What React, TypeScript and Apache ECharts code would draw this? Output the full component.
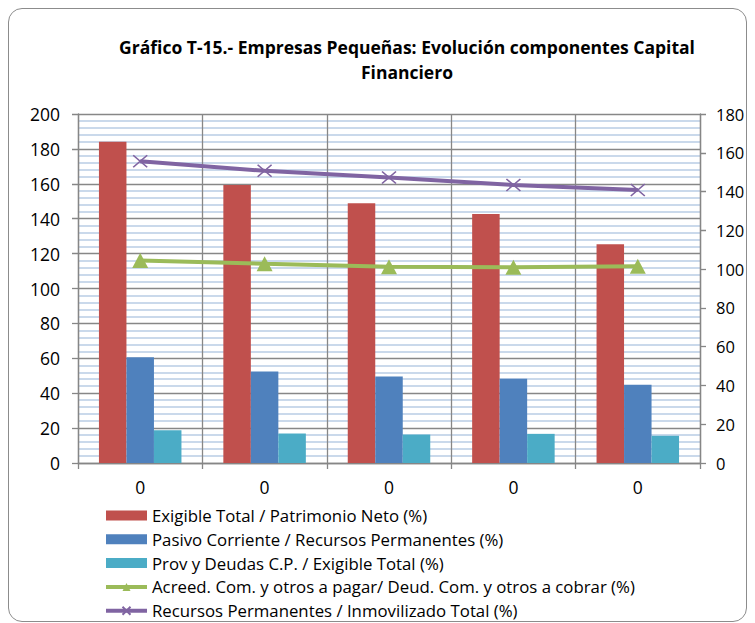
import React, { useEffect, useRef } from "react";
import * as echarts from "echarts";

const categories = ["0", "0", "0", "0", "0"];
const exigiblePatrimonio = [184.1, 159.3, 148.8, 142.7, 125.3];
const pasivoRecursos = [60.6, 52.5, 49.6, 48.3, 44.8];
const provExigible = [18.8, 16.9, 16.3, 16.7, 15.6];
const acreedDeud = [104.5, 102.8, 101.2, 100.9, 101.5];
const recursosInmov = [155.6, 150.7, 147.3, 143.4, 140.8];

const seriesNames = [
  "Exigible Total / Patrimonio Neto (%)",
  "Pasivo Corriente / Recursos Permanentes (%)",
  "Prov y Deudas C.P. / Exigible Total (%)",
  "Acreed. Com. y otros a pagar/ Deud. Com. y otros a cobrar (%)",
  "Recursos Permanentes / Inmovilizado Total (%)",
];

const titleLine1 = "Gráfico T-15.- Empresas Pequeñas: Evolución componentes Capital";
const titleLine2 = "Financiero";

const FONT = "'Open Sans', 'Liberation Sans', sans-serif";

export default function App() {
  const ref = useRef<HTMLDivElement>(null);
  useEffect(() => {
    document.body.style.overflow = "hidden";
    const chart = echarts.init(ref.current!, undefined, { renderer: "svg" });
    const axisGrey = "#868686";
    chart.setOption({
      animation: false,
      textStyle: { fontFamily: FONT },
      graphic: [
        {
          type: "text",
          x: 398,
          y: 38,
          style: {
            text: titleLine1,
            textAlign: "center",
            textVerticalAlign: "middle",
            font: `bold 17.5px ${FONT}`,
            fill: "#000",
          },
        },
        {
          type: "text",
          x: 398,
          y: 63,
          style: {
            text: titleLine2,
            textAlign: "center",
            textVerticalAlign: "middle",
            font: `bold 17.5px ${FONT}`,
            fill: "#000",
          },
        },
      ],
      grid: {
        left: 69,
        top: 105,
        width: 622,
        height: 349,
        containLabel: false,
        outerBoundsMode: "none",
      },
      legend: {
        orient: "vertical",
        left: 95,
        top: 498,
        padding: 0,
        itemWidth: 41,
        itemHeight: 10,
        itemGap: 6.8,
        textStyle: { fontSize: 16.8, color: "#000", fontFamily: FONT, lineHeight: 16.5 },
        data: [
          { name: seriesNames[0], icon: "rect" },
          { name: seriesNames[1], icon: "rect" },
          { name: seriesNames[2], icon: "rect" },
          { name: seriesNames[3], lineStyle: { width: 4 } },
          { name: seriesNames[4], lineStyle: { width: 4 } },
        ],
      },
      xAxis: {
        type: "category",
        data: categories,
        boundaryGap: true,
        axisLine: { lineStyle: { color: axisGrey, width: 1.3 } },
        axisTick: { show: true, length: 6, lineStyle: { color: axisGrey, width: 1.3 } },
        axisLabel: { fontSize: 17.5, color: "#000", margin: 15, fontFamily: FONT },
        splitLine: { show: true, lineStyle: { color: "#878787", width: 1.3 } },
      },
      yAxis: [
        {
          type: "value",
          min: 0,
          max: 200,
          interval: 20,
          position: "left",
          axisLine: { show: true, lineStyle: { color: axisGrey, width: 1.3 } },
          axisTick: { show: true, length: 6, lineStyle: { color: axisGrey, width: 1.3 } },
          axisLabel: { fontSize: 17.5, color: "#000", margin: 18, fontFamily: FONT },
          splitLine: { show: true, lineStyle: { color: "#878787", width: 1.3 } },
          minorTick: { show: false, splitNumber: 5 },
          minorSplitLine: { show: true, lineStyle: { color: "#b9cde5", width: 1.6 } },
        },
        {
          type: "value",
          min: 0,
          max: 180,
          interval: 20,
          position: "right",
          axisLine: { show: true, lineStyle: { color: axisGrey, width: 1.3 } },
          axisTick: { show: true, length: 6, lineStyle: { color: axisGrey, width: 1.3 } },
          axisLabel: { fontSize: 16.5, color: "#000", margin: 16, fontFamily: FONT },
          splitLine: { show: false },
        },
      ],
      series: [
        {
          name: seriesNames[0],
          type: "bar",
          data: exigiblePatrimonio,
          barWidth: 27.5,
          barGap: "0%",
          itemStyle: { color: "#C0504D" },
        },
        {
          name: seriesNames[1],
          type: "bar",
          data: pasivoRecursos,
          barWidth: 27.5,
          barGap: "0%",
          itemStyle: { color: "#4F81BD" },
        },
        {
          name: seriesNames[2],
          type: "bar",
          data: provExigible,
          barWidth: 27.5,
          barGap: "0%",
          itemStyle: { color: "#4BACC6" },
        },
        {
          name: seriesNames[3],
          type: "line",
          yAxisIndex: 1,
          data: acreedDeud,
          symbol: "triangle",
          symbolSize: [16, 15],
          lineStyle: { color: "#9BBB59", width: 4 },
          itemStyle: { color: "#9BBB59" },
        },
        {
          name: seriesNames[4],
          type: "line",
          yAxisIndex: 1,
          data: recursosInmov,
          symbol: "path://M0,0L10,10M10,0L0,10",
          symbolSize: [14, 12],
          lineStyle: { color: "#8064A2", width: 4 },
          itemStyle: { color: "#8064A2", borderColor: "#8064A2", borderWidth: 1.5 },
        },
      ],
    });
    return () => chart.dispose();
  }, []);
  return (
    <div
      style={{
        position: "relative",
        width: 739,
        height: 614,
        border: "1px solid #8c8c8c",
        borderRadius: 14,
        boxSizing: "border-box",
        background: "#fff",
        overflow: "hidden",
      }}
    >
      <div ref={ref} style={{ position: "absolute", left: 0, top: 0, width: 800, height: 680 }} />
    </div>
  );
}
